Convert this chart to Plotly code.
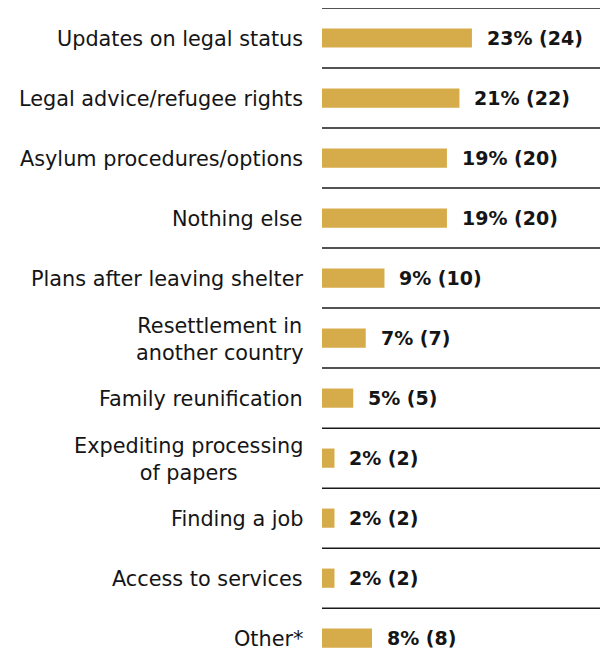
import plotly.graph_objects as go

categories = [
    "Updates on legal status",
    "Legal advice/refugee rights",
    "Asylum procedures/options",
    "Nothing else",
    "Plans after leaving shelter",
    "Resettlement in<br>another country",
    "Family reunification",
    "Expediting processing<br>of papers",
    "Finding a job",
    "Access to services",
    "Other*",
]
counts = [24, 22, 20, 20, 10, 7, 5, 2, 2, 2, 8]
percents = [23, 21, 19, 19, 9, 7, 5, 2, 2, 2, 8]

BAR_COLOR = "#D6AB4A"
FONT = "DejaVu Sans"
TEXT_COLOR = "#151515"

fig = go.Figure()
fig.add_trace(go.Bar(
    x=counts,
    y=categories,
    orientation="h",
    marker=dict(color=BAR_COLOR, line=dict(width=0)),
    width=0.32,
    hoverinfo="skip",
))

for cat, c, p in zip(categories, counts, percents):
    # value label to the right of the bar
    fig.add_annotation(
        x=c, y=cat, xref="x", yref="y",
        text=f"<b>{p}% ({c})</b>",
        showarrow=False, xanchor="left", yanchor="middle",
        xshift=13,
        font=dict(family=FONT, size=19, color=TEXT_COLOR),
    )
    # category name, right-aligned block, centered lines
    fig.add_annotation(
        x=0, y=cat, xref="paper", yref="y",
        text=cat, align="center",
        showarrow=False, xanchor="right", yanchor="middle",
        xshift=-17, yshift=-1,
        font=dict(family=FONT, size=20.8, color=TEXT_COLOR),
    )

# row separators
for i in range(len(categories)):
    fig.add_shape(
        type="line", xref="paper", yref="y",
        x0=0, x1=1, y0=i - 0.5, y1=i - 0.5,
        line=dict(color="#1a1a1a", width=1.5),
    )

fig.update_layout(
    width=600, height=655,
    margin=dict(l=322, r=0, t=8, b=0),
    paper_bgcolor="white", plot_bgcolor="white",
    showlegend=False,
    xaxis=dict(range=[0, 44.5], visible=False, fixedrange=True),
    yaxis=dict(
        type="category",
        categoryorder="array", categoryarray=categories,
        range=[10.28, -0.5],
        showgrid=False, zeroline=False, showline=False,
        showticklabels=False, ticks="",
        fixedrange=True,
    ),
)

fig.write_html("out.html")
